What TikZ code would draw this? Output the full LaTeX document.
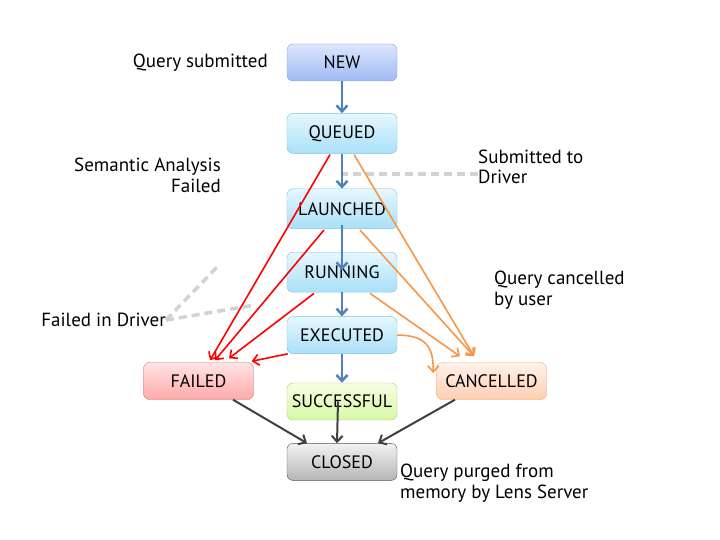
\documentclass[tikz,border=0pt]{standalone}
\usepackage{fontspec}
\setmainfont{PT Sans}
\usetikzlibrary{shapes, arrows.meta, positioning}

\definecolor{newtop}{HTML}{DDE7FF}
\definecolor{newbot}{HTML}{9EB9F4}
\definecolor{newedge}{HTML}{7D9FD6}
\definecolor{runtop}{HTML}{E6F7FE}
\definecolor{runbot}{HTML}{A9E0F8}
\definecolor{runedge}{HTML}{7CC3DF}
\definecolor{failtop}{HTML}{FFE4E4}
\definecolor{failbot}{HTML}{FFA9A9}
\definecolor{failedge}{HTML}{D27373}
\definecolor{oktop}{HTML}{F6FFE4}
\definecolor{okbot}{HTML}{D6F7A6}
\definecolor{okedge}{HTML}{A9CB72}
\definecolor{canceltop}{HTML}{FFF3EC}
\definecolor{cancelbot}{HTML}{FFCDB0}
\definecolor{canceledge}{HTML}{F2A273}
\definecolor{closetop}{HTML}{F2F2F2}
\definecolor{closebot}{HTML}{B5B5B5}
\definecolor{closeedge}{HTML}{555555}
\definecolor{blueline}{HTML}{4F81BD}
\definecolor{orangeline}{HTML}{F79646}
\definecolor{darkline}{HTML}{404040}

\begin{document}
\begin{tikzpicture}
[x=1pt, y=-1pt,
StateNode/.style={rectangle, rounded corners=6pt, thin, minimum width=110pt,
  minimum height=37pt, inner sep=0pt, font=\fontsize{18}{20}\selectfont},
NewNode/.style={StateNode, draw=newedge, top color=newtop, bottom color=newbot},
RunNode/.style={StateNode, draw=runedge, top color=runtop, bottom color=runbot},
FailNode/.style={StateNode, draw=failedge, top color=failtop, bottom color=failbot},
OkNode/.style={StateNode, draw=okedge, top color=oktop, bottom color=okbot},
CancelNode/.style={StateNode, draw=canceledge, top color=canceltop, bottom color=cancelbot},
ClosedNode/.style={StateNode, draw=closeedge, top color=closetop, bottom color=closebot},
NoteNode/.style={inner sep=0pt, font=\fontsize{19}{20.5}\selectfont},
BlueArrow/.style={->, draw=blueline, line width=2.5pt},
RedArrow/.style={->, draw=red, line width=1.6pt},
OrangeArrow/.style={->, draw=orangeline, line width=1.6pt},
DarkArrow/.style={->, draw=darkline, line width=2pt},
Callout/.style={draw=gray!35, line width=3.5pt, dash pattern=on 8pt off 5pt},
>={Straight Barb[length=6pt, width=11pt]}
]
\useasboundingbox (0,0) rectangle (720,540);

\node[NewNode] (New) at (342,62.5) {NEW};
\node[RunNode, minimum height=40pt] (Queued) [below=32pt of New] {QUEUED};
\node[RunNode, minimum height=40pt] (Launched) [below=35pt of Queued] {LAUNCHED};
\node[RunNode, minimum height=40pt] (Running) [below=23pt of Launched] {RUNNING};
\node[RunNode] (Executed) [below=24pt of Running] {EXECUTED};
\node[OkNode] (Successful) [below=29pt of Executed] {SUCCESSFUL};
\node[ClosedNode] (Closed) [below=23pt of Successful] {CLOSED};
\node[FailNode] (Failed) at (198.5,381) {FAILED};
\node[CancelNode] (Cancelled) at (491.5,381) {CANCELLED};

\node[NoteNode, anchor=east] (SubmitLbl) at (268,63) {Query submitted};
\node[NoteNode, anchor=east, align=right] (SemanticLbl) at (221,175.5) {Semantic Analysis\\Failed};
\node[NoteNode, anchor=west, align=left] (DriverLbl) at (478,167) {Submitted to\\Driver};
\node[NoteNode, anchor=west, align=left] (CancelLbl) at (494,290) {Query cancelled\\by user};
\node[NoteNode, anchor=east] (DriverFailLbl) at (166,320) {Failed in Driver};
\node[NoteNode, anchor=west, align=left] (PurgedLbl) at (400,483) {Query purged from\\memory by Lens Server};

% callout lines
\coordinate (DriverPt) at (343,174);
\coordinate (FailPtA) at (220,264);
\coordinate (FailPtB) at (255,305);
\draw[Callout] ([yshift=-7pt]DriverLbl.west) -- (DriverPt);
\draw[Callout] (DriverFailLbl.east) -- (FailPtA);
\draw[Callout] (DriverFailLbl.east) -- (FailPtB);

\draw[BlueArrow] (New) -- (Queued);
\draw[BlueArrow] (Queued) -- (Launched);
\draw[BlueArrow] ([yshift=4pt]Launched.south) -- ([yshift=2pt]Running.center);
\draw[BlueArrow] (Running) -- (Executed);
\draw[BlueArrow] (Executed) -- (Successful);

\draw[RedArrow] ([xshift=-12pt,yshift=-1pt]Queued.south) -- ([xshift=11.5pt,yshift=2pt]Failed.north);
\draw[RedArrow] ([xshift=-18pt,yshift=-1pt]Launched.south) -- ([xshift=16.5pt,yshift=2pt]Failed.north);
\draw[RedArrow] ([xshift=-28pt,yshift=-1pt]Running.south) -- ([xshift=30.5pt,yshift=4pt]Failed.north);
\draw[RedArrow] ([xshift=1pt]Executed.south west) -- ([xshift=-2pt,yshift=1pt]Failed.north east);

\draw[OrangeArrow] ([xshift=12pt,yshift=-1pt]Queued.south) -- ([xshift=-17.5pt,yshift=6pt]Cancelled.north);
\draw[OrangeArrow] ([xshift=18pt,yshift=-1pt]Launched.south) -- ([xshift=-17.5pt,yshift=6pt]Cancelled.north);
\draw[OrangeArrow] ([xshift=28pt,yshift=-1pt]Running.south) -- ([xshift=-31.5pt,yshift=6pt]Cancelled.north);
\draw[OrangeArrow] (Executed.east) .. controls +(30,0) and +(0,-25) .. ([xshift=-3pt,yshift=8pt]Cancelled.west);

\draw[DarkArrow] ([xshift=34.5pt]Failed.south) -- ([xshift=-35pt]Closed.north);
\draw[DarkArrow] ([xshift=-4pt]Successful.center) -- ([xshift=-5pt]Closed.north);
\draw[DarkArrow] ([xshift=-36.5pt]Cancelled.south) -- ([xshift=36pt]Closed.north);
\end{tikzpicture}
\end{document}
